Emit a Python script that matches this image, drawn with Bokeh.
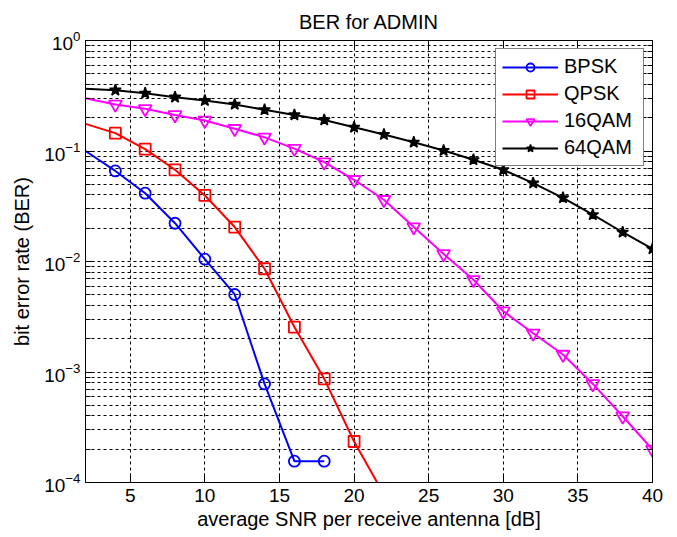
from bokeh.plotting import figure
from bokeh.models import (FixedTicker, LogAxis, LinearAxis, Legend, LegendItem,
                          Range1d, CustomJSTickFormatter)
from bokeh.embed import file_html
from bokeh.resources import INLINE

# SNR grid (dB) and simulated bit error rates per modulation
snr = [2, 4, 6, 8, 10, 12, 14, 16, 18, 20, 22, 24, 26, 28, 30, 32, 34, 36, 38, 40]

bpsk_snr = [2, 4, 6, 8, 10, 12, 14, 16, 18]
bpsk_ber = [0.100, 0.066, 0.0415, 0.0222, 0.0105, 0.00503, 0.00078, 0.000156, 0.000156]

qpsk_snr = [2, 4, 6, 8, 10, 12, 14, 16, 18, 20, 22]
qpsk_ber = [0.176, 0.145, 0.104, 0.0676, 0.0396, 0.0205, 0.0086, 0.00255, 0.000867,
            0.000235, 7.8e-5]

qam16_ber = [0.30, 0.264, 0.241, 0.212, 0.189, 0.159, 0.133, 0.105, 0.0792, 0.0549,
             0.0362, 0.0205, 0.0117, 0.00683, 0.00355, 0.00224, 0.00144, 0.00078,
             0.000398, 0.000199]

qam64_ber = [0.366, 0.355, 0.333, 0.307, 0.286, 0.264, 0.236, 0.212, 0.191, 0.164,
             0.141, 0.120, 0.101, 0.0833, 0.0676, 0.0512, 0.0377, 0.0265, 0.0184, 0.0130]

x_ticks = [5, 10, 15, 20, 25, 30, 35, 40]
y_decades = [1e-4, 1e-3, 1e-2, 1e-1, 1e0]
y_minor = [k * d for d in y_decades[:-1] for k in range(2, 10)]

FONT = "Liberation Sans"

p = figure(width=677, height=537, y_axis_type="log",
           x_range=Range1d(2, 40), y_range=Range1d(1e-4, 1),
           output_backend="svg", toolbar_location=None,
           min_border_left=85, min_border_right=25,
           min_border_top=40, min_border_bottom=55)

p.background_fill_color = "white"
p.border_fill_color = "white"
p.outline_line_color = "black"
p.outline_line_width = 1

p.title.text = "BER for ADMIN"
p.title.align = "center"
p.title.text_font = FONT
p.title.text_font_size = "20px"
p.title.text_font_style = "normal"
p.title.text_color = "black"
p.title.standoff = 15

xt = FixedTicker(ticks=x_ticks)
yt = FixedTicker(ticks=y_decades, minor_ticks=y_minor)

x_ax = p.below[0]
y_ax = p.left[0]
x_ax.ticker = xt
y_ax.ticker = yt
p.xgrid.ticker = xt
p.ygrid.ticker = yt

x_ax.axis_label = "average SNR per receive antenna [dB]"
y_ax.axis_label = "bit error rate (BER)"

# mirrored tick marks on the top and right edges
top_ax = LinearAxis(ticker=xt)
right_ax = LogAxis(ticker=yt)
blank = CustomJSTickFormatter(code="return ''")
for ax in (top_ax, right_ax):
    ax.formatter = blank
    ax.major_label_text_font_size = "0px"
    ax.major_label_text_color = None
    ax.major_label_standoff = 0
p.add_layout(top_ax, "above")
p.add_layout(right_ax, "right")

for ax in (x_ax, y_ax, top_ax, right_ax):
    ax.axis_line_color = "black"
    ax.major_tick_line_color = "black"
    ax.minor_tick_line_color = "black"
    ax.major_tick_in = 9
    ax.major_tick_out = 0
    ax.minor_tick_in = 5
    ax.minor_tick_out = 0

for ax in (x_ax, y_ax):
    ax.major_label_text_font = FONT
    ax.major_label_text_font_size = "19px"
    ax.major_label_text_color = "black"
    ax.axis_label_text_font = FONT
    ax.axis_label_text_font_size = "20px"
    ax.axis_label_text_font_style = "normal"
    ax.axis_label_text_color = "black"

x_ax.major_label_standoff = 6
x_ax.axis_label_standoff = 3
y_ax.major_label_standoff = 5
y_ax.axis_label_standoff = 8

for g in (p.xgrid[0], p.ygrid[0]):
    g.grid_line_color = "black"
    g.grid_line_dash = "3 3"
    g.grid_line_width = 1
p.ygrid[0].minor_grid_line_color = "black"
p.ygrid[0].minor_grid_line_dash = "3 3"
p.ygrid[0].minor_grid_line_width = 1

series = [
    ("BPSK", bpsk_snr, bpsk_ber, "#0000FF", "circle", 11),
    ("QPSK", qpsk_snr, qpsk_ber, "#FF0000", "square", 11),
    ("16QAM", snr, qam16_ber, "#FF00FF", "inverted_triangle", 13),
    ("64QAM", snr, qam64_ber, "#000000", "star", 12),
]

items = []
for name, xs, ys, color, marker, size in series:
    ln = p.line(xs, ys, line_color=color, line_width=2)
    if marker == "star":
        sc = p.scatter(xs[1:], ys[1:], marker=marker, size=size,
                       line_color=color, fill_color=color, line_width=1.5)
    else:
        sc = p.scatter(xs[1:], ys[1:], marker=marker, size=size,
                       line_color=color, fill_color=None, line_width=1.8)
    items.append(LegendItem(label=name, renderers=[ln, sc]))

legend = Legend(items=items, location="top_right")
legend.margin = 8
legend.padding = 6
legend.spacing = 4
legend.glyph_width = 56
legend.glyph_height = 20
legend.label_height = 23
legend.label_width = 73
legend.label_standoff = 6
legend.label_text_font = FONT
legend.label_text_font_size = "20px"
legend.label_text_color = "black"
legend.border_line_color = "black"
legend.border_line_width = 1
legend.background_fill_color = "white"
legend.background_fill_alpha = 1
p.add_layout(legend, "center")

open("out.html", "w").write(file_html(p, INLINE))
